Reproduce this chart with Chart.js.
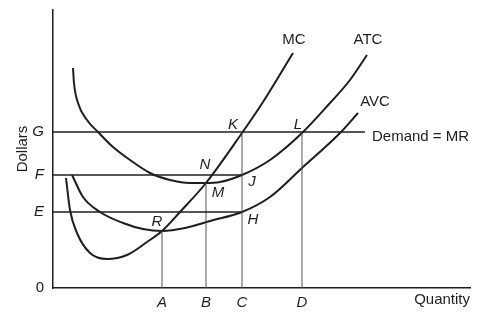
<!DOCTYPE html>
<html>
<head>
<meta charset="utf-8">
<script src="https://cdn.jsdelivr.net/npm/chart.js@4"></script>
<style>
  html, body { margin: 0; padding: 0; background: #fff; }
  #wrap { width: 496px; height: 315px; }
</style>
</head>
<body>
<div id="wrap"><canvas id="costChart"></canvas></div>
<script>
// Quantity ticks (x) and price levels (y), in arbitrary diagram units
const qLabels = ['A', 'B', 'C', 'D'];
const qValues = [109, 153, 189, 249];
const priceLabels = ['0', 'E', 'F', 'G'];
const priceValues = [0, 76, 113, 156];

// Cost curves, [quantity, dollars]
const mcPoints = [[13, 110], [17, 78], [24, 55], [37, 35], [54, 29], [74, 33], [94, 46],
                  [109, 57], [127, 76], [153, 105], [189, 155], [210, 186], [240, 235]];
const atcPoints = [[20, 220], [21, 205], [25, 185], [34, 168], [45, 156], [60, 141], [77, 128],
                   [97, 115], [117, 108], [137, 105], [152, 105], [167, 106], [189, 113],
                   [217, 128], [249, 155], [277, 185], [297, 208], [314, 233]];
const avcPoints = [[19, 113], [30, 91], [47, 76], [70, 65], [90, 59], [109, 57], [132, 60],
                   [157, 67], [189, 76], [217, 91], [249, 120], [287, 155], [305, 175]];

// Demand = MR runs out to here
const demandEnd = 312;
// where the F and E levels stop (at C)
const levelEnds = { F: 189, E: 189 };
// tops of the dropped verticals
const qTops = [57, 105, 156, 156];

const FONT = '"Liberation Sans", Arial, Helvetica, sans-serif';
const INK = '#1e1e1e';

function toXY(arr) {
    return arr.map(p => ({ x: p[0], y: p[1] }));
}

function curve(points) {
    return { data: toXY(points), showLine: true, borderColor: INK, borderWidth: 2,
             pointRadius: 0, cubicInterpolationMode: 'monotone', fill: false };
}

function segment(a, b, width, color) {
    return { data: [a, b], showLine: true, borderColor: color, borderWidth: width,
             pointRadius: 0, tension: 0, fill: false };
}

const datasets = [];
// price levels
datasets.push(segment({ x: 0, y: priceValues[3] }, { x: demandEnd, y: priceValues[3] }, 1.6, INK));
datasets.push(segment({ x: 0, y: priceValues[2] }, { x: levelEnds.F, y: priceValues[2] }, 1.6, INK));
datasets.push(segment({ x: 0, y: priceValues[1] }, { x: levelEnds.E, y: priceValues[1] }, 1.6, INK));
// verticals at A, B, C, D
qValues.forEach((q, i) => {
    datasets.push(segment({ x: q, y: 0 }, { x: q, y: qTops[i] }, 1, '#555'));
});
datasets.push(curve(mcPoints));
datasets.push(curve(atcPoints));
datasets.push(curve(avcPoints));

// text labels placed at diagram coordinates
const notes = [
    { text: 'MC', x: 241, y: 248, italic: false, align: 'center' },
    { text: 'ATC', x: 315, y: 248, italic: false, align: 'center' },
    { text: 'AVC', x: 322, y: 186, italic: false, align: 'center' },
    { text: 'Demand = MR', x: 319, y: 151, italic: false, align: 'left' },
    { text: 'K', x: 180, y: 163, italic: true, align: 'center' },
    { text: 'L', x: 245, y: 163, italic: true, align: 'center' },
    { text: 'N', x: 152, y: 123, italic: true, align: 'center' },
    { text: 'M', x: 165, y: 95, italic: true, align: 'center' },
    { text: 'J', x: 199, y: 106, italic: true, align: 'center' },
    { text: 'H', x: 200, y: 68, italic: true, align: 'center' },
    { text: 'R', x: 104, y: 66, italic: true, align: 'center' }
];

const notePlugin = {
    id: 'notes',
    afterDatasetsDraw(chart) {
        const c = chart.ctx;
        const xs = chart.scales.x, ys = chart.scales.y;
        c.save();
        c.fillStyle = INK;
        c.textBaseline = 'middle';
        notes.forEach(n => {
            c.font = (n.italic ? 'italic ' : '') + '15px ' + FONT;
            c.textAlign = n.align;
            c.fillText(n.text, xs.getPixelForValue(n.x), ys.getPixelForValue(n.y));
        });
        c.restore();
    }
};

new Chart(document.getElementById('costChart'), {
    type: 'scatter',
    data: { datasets },
    plugins: [notePlugin],
    options: {
        responsive: true,
        maintainAspectRatio: false,
        animation: false,
        layout: { padding: { top: 10, right: 26, left: 0, bottom: 0 } },
        plugins: { legend: { display: false }, tooltip: { enabled: false } },
        scales: {
            x: {
                type: 'linear', min: 0, max: 417,
                grid: { display: false, drawTicks: false },
                border: { display: true, color: INK, width: 1.5 },
                afterBuildTicks: s => { s.ticks = qValues.map(v => ({ value: v })); },
                afterFit: s => { s.height = 27; s.paddingLeft = 0; s.paddingRight = 0; },
                ticks: {
                    color: INK, padding: 6, autoSkip: false, maxRotation: 0,
                    font: { family: FONT, size: 15, style: 'italic' },
                    callback: (v) => qLabels[qValues.indexOf(v)]
                },
                title: {
                    display: true, text: 'Quantity', align: 'end', color: INK,
                    font: { family: FONT, size: 15 }, padding: { top: 0, bottom: 6 }
                }
            },
            y: {
                type: 'linear', min: 0, max: 278,
                grid: { display: false, drawTicks: false },
                border: { display: true, color: INK, width: 1.5 },
                afterBuildTicks: s => { s.ticks = priceValues.map(v => ({ value: v })); },
                afterFit: s => { s.width = 53; s.paddingTop = 0; s.paddingBottom = 0; },
                ticks: {
                    color: INK, padding: 9, autoSkip: false,
                    font: ctx => ({ family: FONT, size: 15,
                                    style: ctx.index === 0 ? 'normal' : 'italic' }),
                    callback: (v) => priceLabels[priceValues.indexOf(v)]
                },
                title: {
                    display: true, text: 'Dollars', color: INK,
                    font: { family: FONT, size: 15 }, padding: { top: 14, bottom: 0 }
                }
            }
        }
    }
});
</script>
</body>
</html>
